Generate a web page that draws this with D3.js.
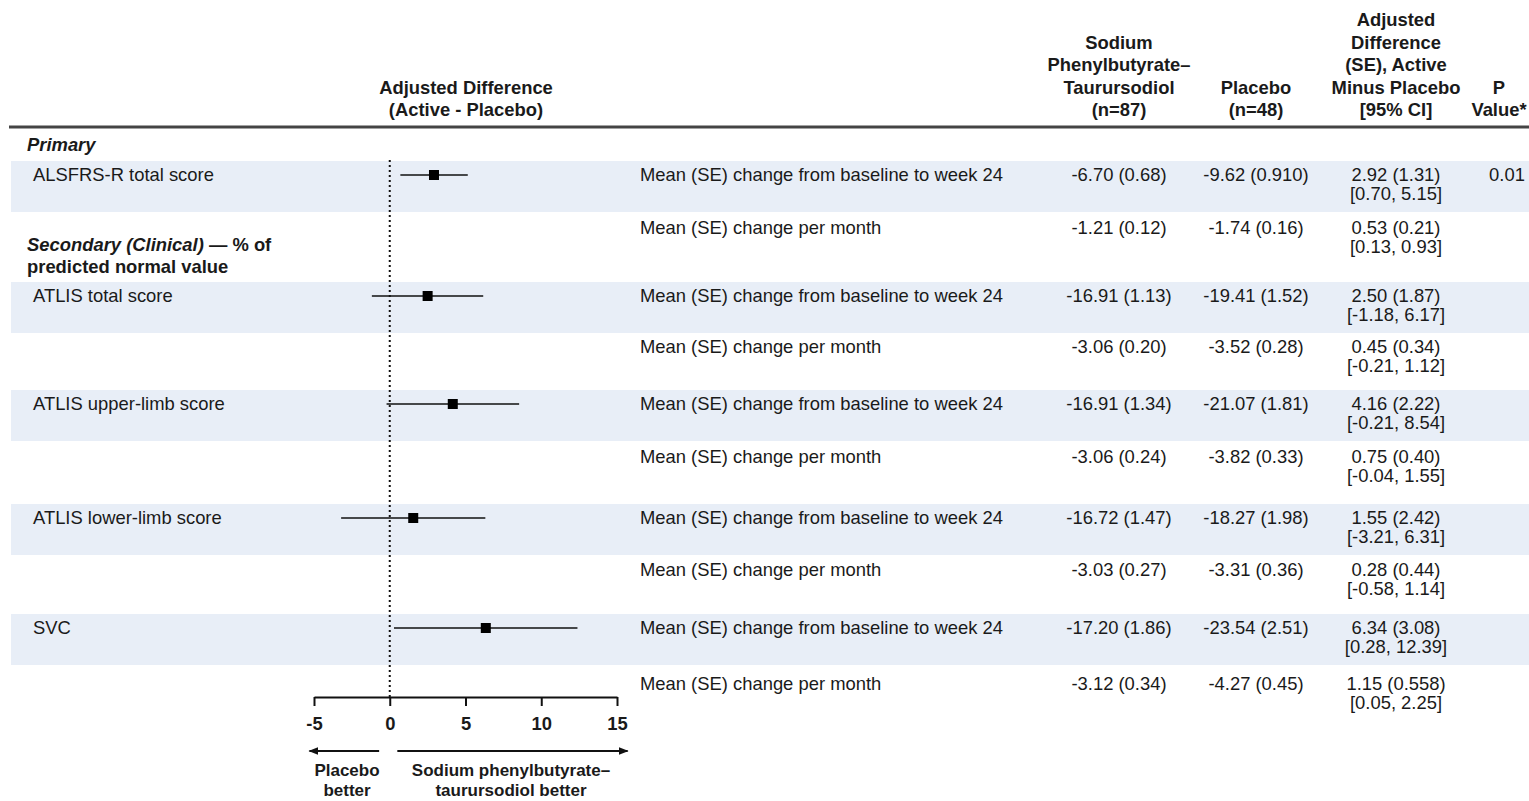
<!DOCTYPE html>
<html>
<head>
<meta charset="utf-8">
<script src="https://cdn.jsdelivr.net/npm/d3@7"></script>
<style>
  body { margin: 0; background: #fff; }
  svg text { font-family: Arial, "Liberation Sans", sans-serif; fill: #1a1a1a; }
</style>
</head>
<body>
<script>
// Data
const outcomes = ["ALSFRS-R total score", "ATLIS total score", "ATLIS upper-limb score", "ATLIS lower-limb score", "SVC"];
const diffs = [2.92, 2.50, 4.16, 1.55, 6.34];
const ciLow = [0.70, -1.18, -0.21, -3.21, 0.28];
const ciHigh = [5.15, 6.17, 8.54, 6.31, 12.39];
const pValues = ["0.01", "", "", "", ""];

const measures = ["Mean (SE) change from baseline to week 24", "Mean (SE) change per month"];
// two rows per outcome: [week 24, per month]
const activeVals = [
  ["-6.70 (0.68)", "-1.21 (0.12)"],
  ["-16.91 (1.13)", "-3.06 (0.20)"],
  ["-16.91 (1.34)", "-3.06 (0.24)"],
  ["-16.72 (1.47)", "-3.03 (0.27)"],
  ["-17.20 (1.86)", "-3.12 (0.34)"]
];
const placeboVals = [
  ["-9.62 (0.910)", "-1.74 (0.16)"],
  ["-19.41 (1.52)", "-3.52 (0.28)"],
  ["-21.07 (1.81)", "-3.82 (0.33)"],
  ["-18.27 (1.98)", "-3.31 (0.36)"],
  ["-23.54 (2.51)", "-4.27 (0.45)"]
];
const diffTexts = [
  ["2.92 (1.31)", "0.53 (0.21)"],
  ["2.50 (1.87)", "0.45 (0.34)"],
  ["4.16 (2.22)", "0.75 (0.40)"],
  ["1.55 (2.42)", "0.28 (0.44)"],
  ["6.34 (3.08)", "1.15 (0.558)"]
];
const ciTexts = [
  ["[0.70, 5.15]", "[0.13, 0.93]"],
  ["[-1.18, 6.17]", "[-0.21, 1.12]"],
  ["[-0.21, 8.54]", "[-0.04, 1.55]"],
  ["[-3.21, 6.31]", "[-0.58, 1.14]"],
  ["[0.28, 12.39]", "[0.05, 2.25]"]
];
const axisTicks = [-5, 0, 5, 10, 15];

// Layout
const width = 1529, height = 801;
const bandTop = [161, 282, 390, 504, 614];
const bandH = 51;
const monthY = [228, 347, 457, 570, 684];
const axisY = 697;
const colActive = 1119, colPlacebo = 1256, colDiff = 1396, colP = 1499;
const colMeasure = 640;
const fs = 18.4;

const svg = d3.select("body").append("svg")
  .attr("width", width).attr("height", height);

const x = d3.scaleLinear().domain([-5, 15]).range([314, 617]);

// shaded bands
svg.selectAll("rect.band")
  .data(bandTop)
  .join("rect")
  .attr("class", "band")
  .attr("x", 11).attr("y", d => d)
  .attr("width", width - 11).attr("height", bandH)
  .attr("fill", "#e8eef7");

// header rule
svg.append("line")
  .attr("x1", 9).attr("x2", width)
  .attr("y1", 127).attr("y2", 127)
  .attr("stroke", "#444").attr("stroke-width", 3);

// column headers
const header = (cx, lines, lastY) => {
  const t = svg.append("text")
    .attr("text-anchor", "middle")
    .attr("font-weight", "bold")
    .attr("font-size", fs);
  lines.forEach((l, i) => {
    t.append("tspan")
      .attr("x", cx)
      .attr("y", lastY - (lines.length - 1 - i) * 22.5)
      .text(l);
  });
};
header(466, ["Adjusted Difference", "(Active - Placebo)"], 116);
header(colActive, ["Sodium", "Phenylbutyrate\u2013", "Taurursodiol", "(n=87)"], 116);
header(colPlacebo, ["Placebo", "(n=48)"], 116);
header(colDiff, ["Adjusted", "Difference", "(SE), Active", "Minus Placebo", "[95% CI]"], 116);
header(colP, ["P", "Value*"], 116);

// section labels
svg.append("text")
  .attr("x", 27).attr("y", 151)
  .attr("font-size", fs).attr("font-weight", "bold").attr("font-style", "italic")
  .text("Primary");

const sec = svg.append("text")
  .attr("font-size", fs).attr("font-weight", "bold");
sec.append("tspan").attr("x", 27).attr("y", 251)
  .attr("font-style", "italic").text("Secondary (Clinical)");
sec.append("tspan").text(" \u2014 % of");
sec.append("tspan").attr("x", 27).attr("y", 273).text("predicted normal value");

// outcome labels
svg.selectAll("text.outcome")
  .data(outcomes)
  .join("text")
  .attr("class", "outcome")
  .attr("x", 33)
  .attr("y", (d, i) => bandTop[i] + 14)
  .attr("dy", "0.35em")
  .attr("font-size", fs)
  .text(d => d);

// table rows
outcomes.forEach((o, i) => {
  const ys = [bandTop[i] + 14, monthY[i]];
  ys.forEach((y, j) => {
    const g = svg.append("g").attr("font-size", fs);
    g.append("text").attr("x", colMeasure).attr("y", y).attr("dy", "0.35em")
      .text(measures[j]);
    g.append("text").attr("x", colActive).attr("y", y).attr("dy", "0.35em")
      .attr("text-anchor", "middle").text(activeVals[i][j]);
    g.append("text").attr("x", colPlacebo).attr("y", y).attr("dy", "0.35em")
      .attr("text-anchor", "middle").text(placeboVals[i][j]);
    g.append("text").attr("x", colDiff).attr("y", y).attr("dy", "0.35em")
      .attr("text-anchor", "middle").text(diffTexts[i][j]);
    g.append("text").attr("x", colDiff).attr("y", y + 19).attr("dy", "0.35em")
      .attr("text-anchor", "middle").text(ciTexts[i][j]);
    if (j === 0 && pValues[i]) {
      g.append("text").attr("x", 1507).attr("y", y).attr("dy", "0.35em")
        .attr("text-anchor", "middle").text(pValues[i]);
    }
  });
});

// reference line at zero
svg.append("line")
  .attr("x1", x(0)).attr("x2", x(0))
  .attr("y1", 160).attr("y2", axisY)
  .attr("stroke", "#111").attr("stroke-width", 2)
  .attr("stroke-dasharray", "2,3");

// confidence intervals and points
svg.selectAll("line.ci")
  .data(diffs)
  .join("line")
  .attr("class", "ci")
  .attr("x1", (d, i) => x(ciLow[i]))
  .attr("x2", (d, i) => x(ciHigh[i]))
  .attr("y1", (d, i) => bandTop[i] + 14)
  .attr("y2", (d, i) => bandTop[i] + 14)
  .attr("stroke", "#111").attr("stroke-width", 1.6);

svg.selectAll("rect.pt")
  .data(diffs)
  .join("rect")
  .attr("class", "pt")
  .attr("x", d => x(d) - 5)
  .attr("y", (d, i) => bandTop[i] + 9)
  .attr("width", 10).attr("height", 10)
  .attr("fill", "#000");

// axis (plain hyphen for negatives, as in the figure)
const axis = svg.append("g")
  .attr("transform", `translate(0,${axisY})`)
  .call(d3.axisBottom(x).tickValues(axisTicks).tickFormat(d => String(d))
    .tickSize(9).tickSizeOuter(0).tickPadding(11));
axis.selectAll("path, line").attr("stroke", "#111").attr("stroke-width", 2);
axis.selectAll("text")
  .attr("font-size", fs).attr("font-weight", "bold")
  .attr("font-family", "Arial, 'Liberation Sans', sans-serif")
  .attr("fill", "#1a1a1a");

// arrows
const defs = svg.append("defs");
defs.append("marker")
  .attr("id", "arrow")
  .attr("viewBox", "0 0 10 10")
  .attr("refX", 9).attr("refY", 5)
  .attr("markerWidth", 5).attr("markerHeight", 5)
  .attr("markerUnits", "strokeWidth")
  .attr("orient", "auto")
  .append("path").attr("d", "M0,1 L10,5 L0,9 Z").attr("fill", "#111");

const arrowY = 751;
svg.append("line")
  .attr("x1", x(-0.7)).attr("x2", x(-5.3))
  .attr("y1", arrowY).attr("y2", arrowY)
  .attr("stroke", "#111").attr("stroke-width", 2)
  .attr("marker-end", "url(#arrow)");
svg.append("line")
  .attr("x1", x(0.5)).attr("x2", x(15.7))
  .attr("y1", arrowY).attr("y2", arrowY)
  .attr("stroke", "#111").attr("stroke-width", 2)
  .attr("marker-end", "url(#arrow)");

const footLabel = (cx, lines) => {
  const t = svg.append("text")
    .attr("text-anchor", "middle").attr("font-weight", "bold").attr("font-size", 17);
  lines.forEach((l, i) => {
    t.append("tspan").attr("x", cx).attr("y", 776 + i * 20).text(l);
  });
};
footLabel(347, ["Placebo", "better"]);
footLabel(511, ["Sodium phenylbutyrate\u2013", "taurursodiol better"]);
</script>
</body>
</html>
